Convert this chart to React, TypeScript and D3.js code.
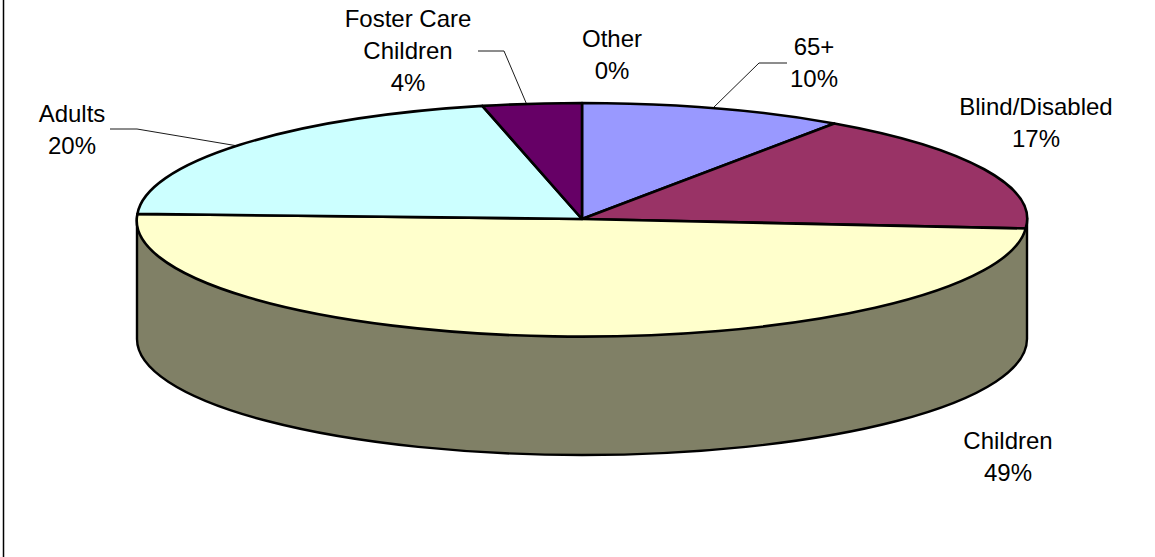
import React from "react";
import * as d3 from "d3";

const categories = ["65+", "Blind/Disabled", "Children", "Adults", "Foster Care Children", "Other"];
const sliceShares = [9.6, 16.7, 49.4, 20.7, 3.6, 0];
const sliceColors = ["#9999FF", "#993366", "#FFFFCC", "#CCFFFF", "#660066", "#FFFFFF"];
const wallColor = "#808066";
const labelLines = [["65+", "10%"], ["Blind/Disabled", "17%"], ["Children", "49%"], ["Adults", "20%"], ["Foster Care", "Children", "4%"], ["Other", "0%"]];
const labelAnchors: [number, number][] = [[814, 55], [1036, 115], [1008, 449], [72, 122], [408, 27], [612, 47]];
const leaders = [
  [[713, 108], [759, 63], [787, 63]],
  [[238, 146], [137, 129], [110, 129]],
  [[527, 105], [504, 51], [478, 51]],
];

const W = 1155, H = 557;
const cx = 582, cy = 219, rx = 445, ry = 116, depth = 120;
const lineH = 32;

export default function App() {
  const pie = d3.pie<number>().sort(null).value((d) => d);
  const arcs = pie(sliceShares);
  const arc = d3.arc<d3.PieArcDatum<number>>().innerRadius(0).outerRadius(1);
  const line = d3.line();
  const wall = `M${cx - rx},${cy}L${cx - rx},${cy + depth}A${rx},${ry} 0 0 0 ${cx + rx},${cy + depth}L${cx + rx},${cy}Z`;
  return (
    <svg width={W} height={H} style={{ position: "absolute", left: 0, top: 0, display: "block" }}>
      <rect width={W} height={H} fill="#fff" />
      <line x1={3.5} y1={0} x2={3.5} y2={H} stroke="#000" strokeWidth={1.5} />
      <path d={wall} fill={wallColor} stroke="#000" strokeWidth={2.4} />
      <g transform={`translate(${cx},${cy}) scale(${rx},${ry})`}>
        {arcs.map((a, i) =>
          a.endAngle > a.startAngle ? (
            <path
              key={categories[i]}
              d={arc(a) ?? ""}
              fill={sliceColors[i]}
              stroke="#000"
              strokeWidth={2.6}
              strokeLinejoin="round"
              vectorEffect="non-scaling-stroke"
            />
          ) : null
        )}
      </g>
      {leaders.map((l, i) => (
        <path key={i} d={line(l as [number, number][]) ?? ""} fill="none" stroke="#000" strokeWidth={0.9} />
      ))}
      <g fontFamily="'Liberation Sans', Arial, sans-serif" fontSize={24} fill="#000" textAnchor="middle">
        {labelLines.map((lines, i) => (
          <text key={i}>
            {lines.map((t, j) => (
              <tspan key={j} x={labelAnchors[i][0]} y={labelAnchors[i][1] + j * lineH}>
                {t}
              </tspan>
            ))}
          </text>
        ))}
      </g>
    </svg>
  );
}
